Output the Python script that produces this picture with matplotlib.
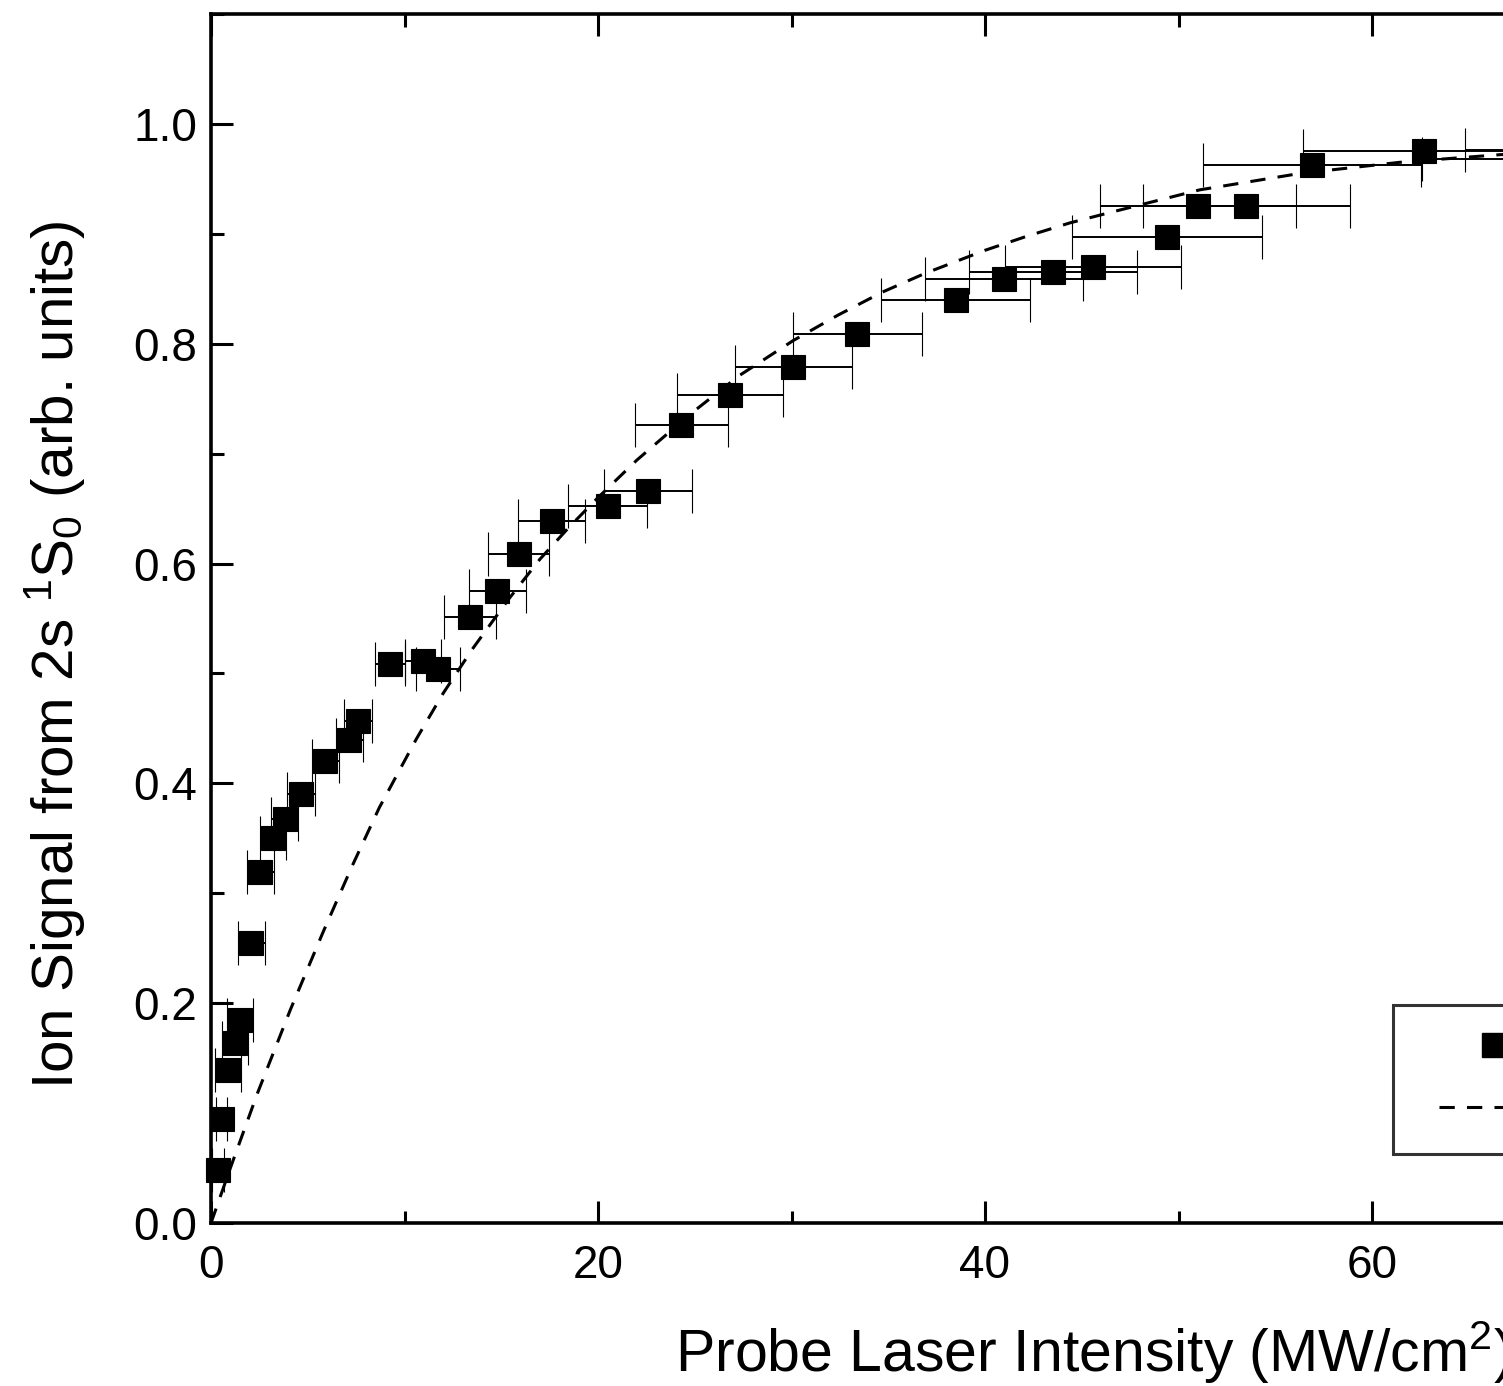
import matplotlib
matplotlib.use("Agg")
import matplotlib.pyplot as plt
from matplotlib.lines import Line2D
from matplotlib.legend_handler import HandlerLine2D
from matplotlib.ticker import MultipleLocator, FormatStrFormatter

plt.rcParams["font.family"] = ["Liberation Sans", "DejaVu Sans"]
plt.rcParams["mathtext.default"] = "regular"

# ── measured points (intensity, signal, horizontal error) ───────────────────
intensity = [0.36, 0.55, 0.88, 1.24, 1.50, 2.07, 2.55, 3.20, 3.80, 4.65,
             5.90, 7.15, 7.60, 9.25, 10.95, 11.75, 13.4, 14.8, 15.9, 17.6,
             20.5, 22.6, 24.3, 26.8, 30.1, 33.4, 38.5, 41.0, 43.5, 45.6,
             49.4, 51.0, 53.5, 56.9, 62.7, 69.5, 72.0]
signal = [0.048, 0.095, 0.139, 0.164, 0.185, 0.255, 0.319, 0.350, 0.368, 0.390,
          0.420, 0.439, 0.457, 0.509, 0.511, 0.504, 0.551, 0.575, 0.609, 0.639,
          0.652, 0.666, 0.726, 0.753, 0.779, 0.809, 0.840, 0.859, 0.865, 0.870,
          0.897, 0.925, 0.925, 0.963, 0.975, 0.968, 0.976]
intensity_err = [0.30, 0.30, 0.68, 0.68, 0.68, 0.70, 0.70, 0.68, 0.70, 0.70,
                 0.70, 0.70, 0.72, 0.75, 0.93, 1.14, 1.34, 1.47, 1.58, 1.73,
                 2.04, 2.27, 2.40, 2.74, 3.02, 3.33, 3.85, 4.08, 4.34, 4.55,
                 4.91, 5.06, 5.35, 5.63, 6.25, 6.90, 7.20]

# ── fit curve ───────────────────────────────────────────────────────────────
fit_x = [0, 0.5, 1.0, 2.4, 4.1, 5.8, 7.3, 8.7, 10.6, 12.0, 13.5, 15.4, 17.0,
         18.5, 20.0, 22.0, 24.7, 27.3, 30.1, 32.4, 34.7, 36.9, 40.0, 42.2,
         44.4, 46.6, 51.1, 56.3, 61.4, 66.6, 72, 80, 90]
fit_y = [0, 0.025, 0.050, 0.118, 0.194, 0.265, 0.325, 0.378, 0.440, 0.482,
         0.522, 0.568, 0.604, 0.633, 0.660, 0.694, 0.735, 0.771, 0.803, 0.826,
         0.847, 0.864, 0.885, 0.898, 0.910, 0.920, 0.940, 0.955, 0.965, 0.972,
         0.976, 0.979, 0.980]

W, H = 1503, 1386
fig = plt.figure(figsize=(W / 100, H / 100), dpi=100)

# axes runs past the right border of the picture (original is cropped)
x0, y_bot, y_top = 211, 1223, 14
px_per_unit = 19.35
xmax = 78
ax = fig.add_axes([x0 / W, (H - y_bot) / H,
                   xmax * px_per_unit / W, (y_bot - y_top) / H])

ax.plot(fit_x, fit_y, color="black", lw=2.2, linestyle=(0, (5, 4)), zorder=2)
ax.errorbar(intensity, signal, xerr=intensity_err, fmt="s", color="black",
            ms=17, mec="black", mew=0.8, elinewidth=1.4, capsize=15.5,
            capthick=1.4, ecolor="black", zorder=3, clip_on=False)

ax.set_xlim(0, xmax)
ax.set_ylim(0, 1.1)
ax.xaxis.set_major_locator(MultipleLocator(20))
ax.xaxis.set_minor_locator(MultipleLocator(10))
ax.yaxis.set_major_locator(MultipleLocator(0.2))
ax.yaxis.set_minor_locator(MultipleLocator(0.1))
ax.yaxis.set_major_formatter(FormatStrFormatter("%.1f"))

ax.tick_params(which="both", direction="in", top=True, right=True,
               width=2.2, labelsize=33)
ax.tick_params(which="major", length=16)
ax.tick_params(axis="x", which="major", pad=15)
ax.tick_params(axis="y", which="major", pad=10)
ax.tick_params(which="minor", length=9)
for s in ax.spines.values():
    s.set_linewidth(2.6)

fig.text(675 / W, 1 - 1352 / H, "Probe Laser Intensity (MW/cm$^2$)",
         fontsize=42.5, ha="left", va="center")
fig.text(55 / W, 1 - 655 / H, "Ion Signal from 2s $^1$S$_0$ (arb. units)",
         fontsize=42, ha="center", va="center", rotation=90)

# legend (its right part lies outside the cropped picture)
h_data = Line2D([], [], ls="none", marker="s", ms=17, color="black")
h_fit = Line2D([], [], color="black", lw=2.2, linestyle=(0, (5, 4)))
shift = HandlerLine2D(xpad=0.55)
leg = ax.legend([h_data, h_fit], ["Data", "Fit"], loc="upper left",
                bbox_to_anchor=((1393 - x0) / (xmax * px_per_unit),
                                (y_bot - 1005) / (y_bot - y_top)),
                fontsize=29, frameon=True, fancybox=False, handlelength=3.28,
                borderpad=0.6, labelspacing=0.6, handletextpad=0.8,
                borderaxespad=0, handler_map={h_data: shift, h_fit: shift})
leg.get_frame().set_edgecolor("black")
leg.get_frame().set_linewidth(2.2)

fig.savefig("out.png", dpi=100)
